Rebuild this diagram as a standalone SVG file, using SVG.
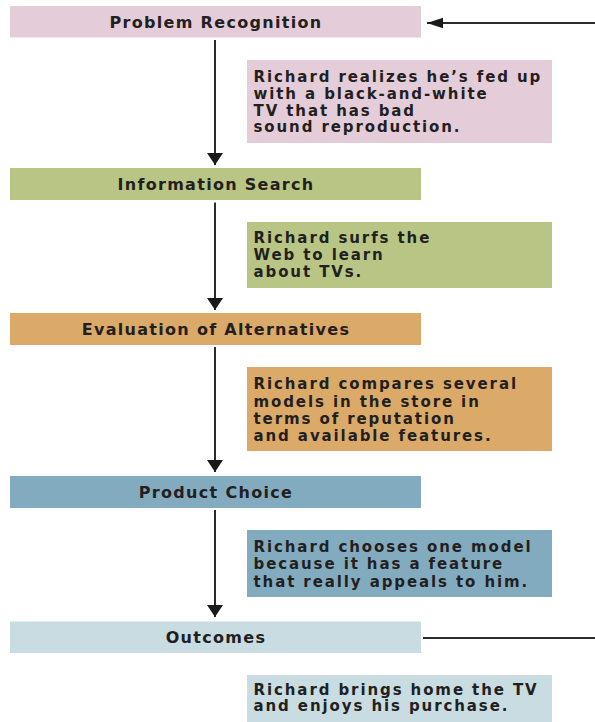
<svg xmlns="http://www.w3.org/2000/svg" width="595" height="722" viewBox="0 0 595 722">
  <style>
    .hd { font-family: "DejaVu Sans", "Liberation Sans", sans-serif; font-weight: bold; font-size: 16px; letter-spacing: 1.3px; fill: #231f20; text-anchor: middle; }
    .tx { font-family: "DejaVu Sans", "Liberation Sans", sans-serif; font-weight: bold; font-size: 15px; letter-spacing: 1.9px; fill: #231f20; }
    .pink { fill: #e4cdd9; }
    .green { fill: #b8c585; }
    .orange { fill: #dbaa69; }
    .blue { fill: #83abbf; }
    .lblue { fill: #c8dce1; }
    .conn { fill: none; stroke: #2b2b2b; stroke-width: 2; }
  </style>
  <defs>
    <marker id="ad" markerUnits="userSpaceOnUse" markerWidth="16" markerHeight="16" viewBox="0 0 12 16" refX="12" refY="8" orient="auto">
      <path d="M0 0 L12 8 L0 16 Z" fill="#1a1a1a"/>
    </marker>
    <marker id="al" markerUnits="userSpaceOnUse" markerWidth="16" markerHeight="12" viewBox="0 0 15 10" refX="15" refY="5" orient="auto">
      <path d="M0 0 L15 5 L0 10 Z" fill="#1a1a1a"/>
    </marker>
  </defs>

  <g id="problem-recognition">
    <rect class="pink" x="10" y="6" width="411" height="31.5"/>
    <text class="hd" x="216" y="27.5">Problem Recognition</text>
  </g>
  <g id="desc-problem">
    <rect class="pink" x="247" y="60" width="305" height="83"/>
    <text class="tx" x="253.5" y="82.3">Richard realizes he’s fed up</text>
    <text class="tx" x="253.5" y="99">with a black-and-white</text>
    <text class="tx" x="253.5" y="115.7">TV that has bad</text>
    <text class="tx" x="253.5" y="132.3">sound reproduction.</text>
  </g>

  <g id="information-search">
    <rect class="green" x="10" y="168" width="411" height="32"/>
    <text class="hd" x="216" y="189.8">Information Search</text>
  </g>
  <g id="desc-search">
    <rect class="green" x="247" y="222" width="305" height="66"/>
    <text class="tx" x="253.5" y="243">Richard surfs the</text>
    <text class="tx" x="253.5" y="260">Web to learn</text>
    <text class="tx" x="253.5" y="277.3">about TVs.</text>
  </g>

  <g id="evaluation">
    <rect class="orange" x="10" y="313" width="411" height="32"/>
    <text class="hd" x="216" y="334.8">Evaluation of Alternatives</text>
  </g>
  <g id="desc-evaluation">
    <rect class="orange" x="247" y="367" width="305" height="84"/>
    <text class="tx" x="253.5" y="389.3">Richard compares several</text>
    <text class="tx" x="253.5" y="406.6">models in the store in</text>
    <text class="tx" x="253.5" y="423.9">terms of reputation</text>
    <text class="tx" x="253.5" y="441">and available features.</text>
  </g>

  <g id="product-choice">
    <rect class="blue" x="10" y="476" width="411" height="32"/>
    <text class="hd" x="216" y="497.8">Product Choice</text>
  </g>
  <g id="desc-choice">
    <rect class="blue" x="247" y="530" width="305" height="67"/>
    <text class="tx" x="253.5" y="551.7">Richard chooses one model</text>
    <text class="tx" x="253.5" y="569">because it has a feature</text>
    <text class="tx" x="253.5" y="586.5">that really appeals to him.</text>
  </g>

  <g id="outcomes">
    <rect class="lblue" x="10" y="621.5" width="411" height="31.5"/>
    <text class="hd" x="216" y="643">Outcomes</text>
  </g>
  <g id="desc-outcomes">
    <rect class="lblue" x="247" y="675" width="305" height="60"/>
    <text class="tx" x="253.5" y="694.5">Richard brings home the TV</text>
    <text class="tx" x="253.5" y="711">and enjoys his purchase.</text>
  </g>

  <g id="connectors">
    <line class="conn" x1="215" y1="40" x2="215" y2="165" marker-end="url(#ad)"/>
    <line class="conn" x1="215" y1="202.5" x2="215" y2="310" marker-end="url(#ad)"/>
    <line class="conn" x1="215" y1="347" x2="215" y2="472" marker-end="url(#ad)"/>
    <line class="conn" x1="215" y1="510" x2="215" y2="617" marker-end="url(#ad)"/>
    <path class="conn" d="M423 638 H600 V23 H427" marker-end="url(#al)"/>
  </g>
</svg>
